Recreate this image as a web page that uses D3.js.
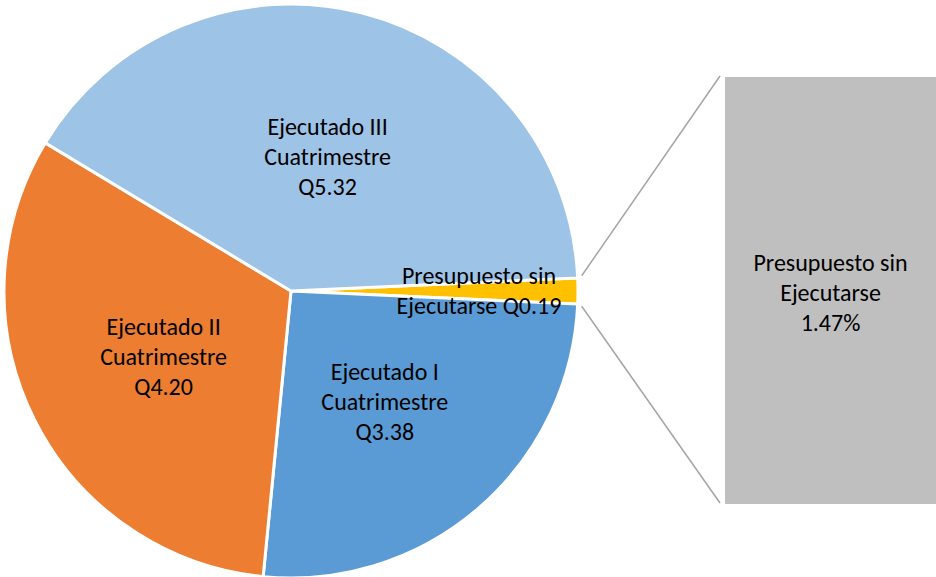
<!DOCTYPE html>
<html>
<head>
<meta charset="utf-8">
<script src="https://cdn.jsdelivr.net/npm/d3@7"></script>
<style>
  html, body { margin: 0; padding: 0; background: #fff; }
  svg { display: block; }
  text { font-family: Carlito, Lato, "Open Sans", sans-serif; font-size: 24px; fill: #000; }
</style>
</head>
<body>
<svg id="chart" width="936" height="577"></svg>
<script>
// Slices of the main pie (Quetzales, millions)
const categories = ["Presupuesto sin Ejecutarse", "Ejecutado I Cuatrimestre", "Ejecutado II Cuatrimestre", "Ejecutado III Cuatrimestre"];
const values = [0.19, 3.38, 4.20, 5.32];
const colors = ["#FFC000", "#5B9BD5", "#ED7D31", "#9DC3E6"];
const sliceLabels = [
  ["Presupuesto sin", "Ejecutarse Q0.19"],
  ["Ejecutado I", "Cuatrimestre", "Q3.38"],
  ["Ejecutado II", "Cuatrimestre", "Q4.20"],
  ["Ejecutado III", "Cuatrimestre", "Q5.32"]
];
// Secondary bar (split-off part of the pie)
const barCategories = ["Presupuesto sin Ejecutarse"];
const barValues = [0.19];
const barLabels = [["Presupuesto sin", "Ejecutarse", "1.47%"]];

const svg = d3.select("#chart");
const cx = 291, cy = 291, r = 287;
const total = d3.sum(values);
const halfSmall = Math.PI * values[0] / total;

const pie = d3.pie().sort(null).value(d => d)
  .startAngle(Math.PI / 2 - halfSmall)
  .endAngle(Math.PI / 2 - halfSmall + 2 * Math.PI);
const arcs = pie(values);
const arc = d3.arc().innerRadius(0).outerRadius(r);

const g = svg.append("g").attr("transform", `translate(${cx},${cy})`);
g.selectAll("path.slice").data(arcs).join("path")
  .attr("class", "slice")
  .attr("d", arc)
  .attr("fill", (d, i) => colors[i])
  .attr("stroke", "#fff")
  .attr("stroke-width", 3)
  .attr("stroke-linejoin", "miter");

// Slice labels: placed along each slice's bisector, with a small angular nudge
const labelRadius = [0.655, 0.505, 0.5, 0.485];
const labelNudge = [0, 0.6, -0.7, 1.0]; // degrees
const lineH = 30;
arcs.forEach((a, i) => {
  const mid = (a.startAngle + a.endAngle) / 2 + labelNudge[i] * Math.PI / 180;
  const rr = labelRadius[i] * r;
  const x = Math.sin(mid) * rr, y = -Math.cos(mid) * rr;
  const lines = sliceLabels[i];
  const t = g.append("text").attr("text-anchor", "middle");
  lines.forEach((ln, k) => {
    t.append("tspan").attr("x", x)
      .attr("y", y + (k - (lines.length - 1) / 2) * lineH + 8)
      .text(ln);
  });
});

// Secondary bar
const barX0 = 725, barX1 = 936;
const yBar = d3.scaleLinear().domain([0, d3.sum(barValues)]).range([504, 77]);
let acc = 0;
barValues.forEach((v, i) => {
  svg.append("rect")
    .attr("x", barX0).attr("width", barX1 - barX0)
    .attr("y", yBar(acc + v)).attr("height", yBar(acc) - yBar(acc + v))
    .attr("fill", "#BFBFBF");
  const mY = (yBar(acc) + yBar(acc + v)) / 2;
  const lines = barLabels[i];
  const t = svg.append("text").attr("text-anchor", "middle");
  lines.forEach((ln, k) => {
    t.append("tspan").attr("x", (barX0 + barX1) / 2)
      .attr("y", mY + (k - (lines.length - 1) / 2) * lineH + 8 + 2)
      .text(ln);
  });
  acc += v;
});

// Connector lines from the split slice to the bar
const sa = arcs[0].startAngle, ea = arcs[0].endAngle;
const rc = r + 4;
const p1 = [cx + Math.sin(sa) * rc, cy - Math.cos(sa) * rc - 2];
const p2 = [cx + Math.sin(ea) * rc, cy - Math.cos(ea) * rc + 2];
svg.append("line").attr("x1", p1[0]).attr("y1", p1[1])
  .attr("x2", barX0 - 5).attr("y2", yBar(d3.sum(barValues)) - 1)
  .attr("stroke", "#A5A5A5").attr("stroke-width", 1.5);
svg.append("line").attr("x1", p2[0]).attr("y1", p2[1])
  .attr("x2", barX0 - 5).attr("y2", yBar(0) - 1)
  .attr("stroke", "#A5A5A5").attr("stroke-width", 1.5);
</script>
</body>
</html>
